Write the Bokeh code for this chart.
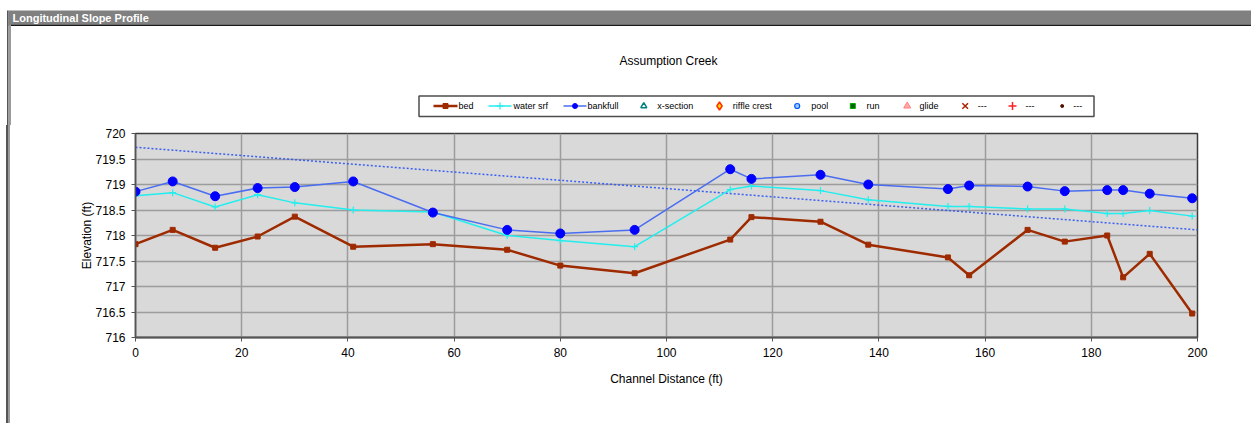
from bokeh.plotting import figure
from bokeh.models import Range1d, FixedTicker, CustomJSTickFormatter, Label, Div
from bokeh.layouts import column, row
from bokeh.embed import file_html
from bokeh.resources import INLINE

# ---------------- data ----------------
bed_x = [0, 7, 15, 23, 30, 41, 56, 70, 80, 94, 112, 116, 129, 138, 153, 157, 168, 175, 183, 186, 191, 199]
bed_y = [717.83, 718.11, 717.76, 717.98, 718.37, 717.78, 717.83, 717.72, 717.41, 717.26, 717.92, 718.36,
         718.27, 717.82, 717.57, 717.22, 718.11, 717.88, 718.00, 717.18, 717.64, 716.47]

wsrf_x = [0, 7, 15, 23, 30, 41, 56, 70, 80, 94, 112, 116, 129, 138, 153, 157, 168, 175, 183, 186, 191, 199]
wsrf_y = [718.78, 718.84, 718.56, 718.80, 718.64, 718.50, 718.46, 718.00, 717.90, 717.78, 718.90, 718.97,
          718.88, 718.70, 718.57, 718.57, 718.52, 718.52, 718.43, 718.43, 718.49, 718.38]

bank_x = [0, 7, 15, 23, 30, 41, 56, 70, 80, 94, 112, 116, 129, 138, 153, 157, 168, 175, 183, 186, 191, 199]
bank_y = [718.86, 719.06, 718.77, 718.93, 718.95, 719.06, 718.45, 718.11, 718.04, 718.11, 719.30, 719.11,
          719.19, 719.00, 718.91, 718.98, 718.96, 718.87, 718.89, 718.89, 718.82, 718.73]

trend_x = [0, 200]
trend_y = [719.73, 718.11]

legend_labels = ["bed", "water srf", "bankfull", "x-section", "riffle crest",
                 "pool", "run", "glide", "---", "---", "---"]

x_ticks = [0, 20, 40, 60, 80, 100, 120, 140, 160, 180, 200]
y_ticks = [716, 716.5, 717, 717.5, 718, 718.5, 719, 719.5, 720]

chart_title = "Assumption Creek"
bar_title = "Longitudinal Slope Profile"
x_label = "Channel Distance (ft)"
y_label = "Elevation (ft)"

FONT = "Liberation Sans"
BED = "#9e2a00"
WSRF = "#22eeee"
BANK_L = "#4a6cf0"
BANK_M = "#0000ff"

W = 1251
HDR_H = 125
MAIN_H = 298
STRIP_W = 11


def blank(width, height, xr, yr):
    f = figure(width=width, height=height, output_backend="svg", toolbar_location=None,
               x_range=xr, y_range=yr, x_axis_type=None, y_axis_type=None,
               min_border_left=0, min_border_right=0, min_border_top=0, min_border_bottom=0)
    f.outline_line_color = None
    f.background_fill_color = "white"
    f.border_fill_color = "white"
    f.grid.visible = False
    return f


# ---------------- header (pixel coordinates, y downwards) ----------------
hdr = blank(W, HDR_H, Range1d(0, W), Range1d(HDR_H, 0))
hdr.quad(left=8, right=W, top=10, bottom=24, fill_color="#808080", line_color=None)
hdr.quad(left=8, right=W, top=24, bottom=25.5, fill_color="#1a1a1a", line_color=None)
hdr.quad(left=6.5, right=8, top=10, bottom=HDR_H + 1, fill_color="#555555", line_color=None)
hdr.quad(left=8, right=10.5, top=24, bottom=HDR_H + 1, fill_color="#9a9a9a", line_color=None)
hdr.add_layout(Label(x=12, y=17.5, text=bar_title, text_font=FONT, text_font_size="11px",
                     text_font_style="bold", text_color="white",
                     text_baseline="middle", text_align="left"))
hdr.add_layout(Label(x=668, y=60, text=chart_title, text_font=FONT, text_font_size="12px",
                     text_color="black", text_baseline="middle", text_align="center"))

# legend box
hdr.quad(left=418.5, right=1093.5, top=95.5, bottom=116, fill_color="white",
         line_color="#4d4d4d", line_width=1.5)
LY = 105.5
line_entries = [(433, 457, BED, 2.5), (488, 511, WSRF, 1.5), (563, 586, BANK_L, 1.5)]
for x0, x1, c, w in line_entries:
    hdr.line([x0, x1], [LY, LY], line_color=c, line_width=w)
hdr.scatter([445], [LY], marker="square", size=5, fill_color=BED, line_color=BED)
hdr.scatter([499.5], [LY], marker="cross", size=7, line_color=WSRF, line_width=1.2)
hdr.scatter([574.5], [LY], marker="circle", size=5, fill_color=BANK_M, line_color=BANK_M)
hdr.scatter([643.3], [LY], marker="triangle", size=6, fill_color=None, line_color="#008080", line_width=1.5)
hdr.scatter([719], [LY], marker="diamond", size=8, fill_color="#ffdd00", line_color="#ff3300", line_width=1.5)
hdr.scatter([796.7], [LY], marker="circle", size=5, fill_color="#99ccff", line_color="#0055ff", line_width=1.2)
hdr.scatter([852.3], [LY], marker="square", size=5, fill_color="#006600", line_color="#00aa00", line_width=1)
hdr.scatter([906.7], [LY], marker="triangle", size=7, fill_color="#ffaaaa", line_color="#ff8080", line_width=1)
hdr.scatter([964.7], [LY], marker="x", size=8, line_color="#aa2200", line_width=1.5)
hdr.scatter([1012], [LY], marker="cross", size=8, line_color="#ff2020", line_width=1.5)
hdr.scatter([1061.7], [LY], marker="circle", size=3, fill_color="#551100", line_color="#551100")

label_x = [458, 513, 587, 656.7, 732.3, 810.7, 866, 919, 977.3, 1025, 1072.7]
for lx, lab in zip(label_x, legend_labels):
    hdr.add_layout(Label(x=lx, y=LY, text=lab, text_font=FONT, text_font_size="9px",
                         text_color="black", text_baseline="middle", text_align="left"))

# ---------------- left edge strip (plain HTML box, no plot frame to align) ----------------
strip = Div(text="", width=STRIP_W, height=MAIN_H, margin=0,
            styles={"background": "linear-gradient(to right, #ffffff 0px, #ffffff 6.5px, #555555 6.5px, "
                                  "#555555 8px, #9a9a9a 8px, #9a9a9a 10.5px, #ffffff 10.5px)"})

# ---------------- main chart ----------------
p = figure(width=W - STRIP_W, height=MAIN_H, output_backend="svg", toolbar_location=None,
           x_range=Range1d(0, 200), y_range=Range1d(716, 720),
           min_border_left=135 - STRIP_W, min_border_right=W - 1197, min_border_top=8,
           min_border_bottom=MAIN_H - 8 - 204)
p.background_fill_color = "#d9d9d9"
p.border_fill_color = "white"
p.outline_line_color = "#3c3c3c"
p.outline_line_width = 1.5

for g in (p.xgrid, p.ygrid):
    g.grid_line_color = "#9c9c9c"
    g.grid_line_width = 1.5
p.xgrid.ticker = FixedTicker(ticks=x_ticks)
p.ygrid.ticker = FixedTicker(ticks=y_ticks)

xa = p.xaxis[0]
ya = p.yaxis[0]
xa.ticker = FixedTicker(ticks=x_ticks)
ya.ticker = FixedTicker(ticks=y_ticks)
ya.formatter = CustomJSTickFormatter(code="return tick.toString();")
xa.formatter = CustomJSTickFormatter(code="return tick.toString();")
for ax in (xa, ya):
    ax.major_label_text_font = FONT
    ax.major_label_text_font_size = "12px"
    ax.major_label_text_color = "black"
    ax.axis_label_text_font = FONT
    ax.axis_label_text_font_size = "12px"
    ax.axis_label_text_font_style = "normal"
    ax.axis_label_text_color = "black"
    ax.axis_line_color = "#555555"
    ax.major_tick_line_color = "#555555"
    ax.minor_tick_line_color = None
    ax.major_tick_in = 0
    ax.major_tick_out = 4
    ax.major_label_standoff = 6
xa.axis_line_width = 2
ya.axis_line_width = 1.5
xa.axis_label = x_label
ya.axis_label = y_label
xa.axis_label_standoff = 12
ya.axis_label_standoff = -2

p.line(trend_x, trend_y, line_color="#3a5ff5", line_width=1.5, line_dash="2 2")
p.line(bed_x, bed_y, line_color=BED, line_width=2.5)
p.scatter(bed_x, bed_y, marker="square", size=5, fill_color=BED, line_color=BED)
p.line(wsrf_x, wsrf_y, line_color=WSRF, line_width=1.5)
p.scatter(wsrf_x, wsrf_y, marker="cross", size=7, line_color=WSRF, line_width=1.2)
p.line(bank_x, bank_y, line_color=BANK_L, line_width=1.5)
p.scatter(bank_x, bank_y, marker="circle", size=9, fill_color=BANK_M, line_color=BANK_M)

layout = column(hdr, row(strip, p, spacing=0), spacing=0)
open("out.html", "w").write(file_html(layout, INLINE))
